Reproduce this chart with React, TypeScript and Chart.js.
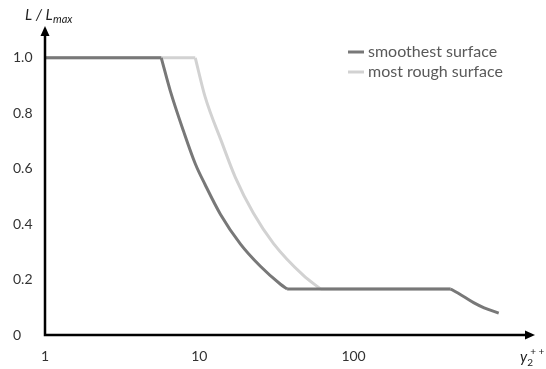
import { useEffect, useRef } from "react";
import { Chart, registerables } from "chart.js";

Chart.register(...registerables);

const seriesNames = ["smoothest surface", "most rough surface"];
const smoothX = [1, 5.67, 6.48, 7.91, 9.42, 10.9, 13.7, 18.5, 24.9, 33.6, 37.1, 426, 520, 604, 702, 873];
const smoothY = [1, 1, 0.882, 0.735, 0.618, 0.543, 0.436, 0.328, 0.248, 0.183, 0.166, 0.166, 0.138, 0.116, 0.098, 0.079];
// indices where the drawn line switches between straight and curved parts
const smoothBreaks = [0, 1, 10, 11, 15];
const roughX = [1, 9.42, 10.9, 14.0, 17.1, 22.4, 30.3, 47.3, 61.1, 426];
const roughY = [1, 1, 0.86, 0.695, 0.57, 0.44, 0.33, 0.215, 0.166, 0.166];
const roughBreaks = [0, 1, 8, 9];
const xTicks = [1, 10, 100];
const yTicks = [0, 0.2, 0.4, 0.6, 0.8, 1.0];
const yTickLabels = ["0", "0.2", "0.4", "0.6", "0.8", "1.0"];
const lineColors = ["#787878", "#d2d2d2"];

const FONT = "Lato";

function buildDatasets(xs: number[], ys: number[], breaks: number[], color: string, label: string) {
  const out: any[] = [];
  for (let k = 0; k < breaks.length - 1; k++) {
    const a = breaks[k];
    const b = breaks[k + 1];
    const pts = [];
    for (let i = a; i <= b; i++) pts.push({ x: xs[i], y: ys[i] });
    out.push({
      label,
      data: pts,
      borderColor: color,
      borderWidth: 3,
      pointRadius: 0,
      cubicInterpolationMode: b - a > 1 ? "monotone" : "default",
      tension: 0,
      isMain: k === 0,
    });
  }
  return out;
}

const decor = {
  id: "decor",
  afterDraw(chart: any) {
    const { ctx, chartArea, scales } = chart;
    const xL = scales.x.getPixelForValue(1);
    const yB = scales.y.getPixelForValue(0);
    ctx.save();
    ctx.strokeStyle = "#000";
    ctx.fillStyle = "#000";
    ctx.lineWidth = 2.5;
    ctx.beginPath();
    ctx.moveTo(xL, chartArea.top + 8);
    ctx.lineTo(xL, yB);
    ctx.lineTo(chartArea.right - 8, yB);
    ctx.stroke();
    ctx.beginPath();
    ctx.moveTo(xL, chartArea.top);
    ctx.lineTo(xL - 4.5, chartArea.top + 10);
    ctx.lineTo(xL + 4.5, chartArea.top + 10);
    ctx.closePath();
    ctx.fill();
    ctx.beginPath();
    ctx.moveTo(chartArea.right, yB);
    ctx.lineTo(chartArea.right - 10, yB - 4.5);
    ctx.lineTo(chartArea.right - 10, yB + 4.5);
    ctx.closePath();
    ctx.fill();
    // axis titles
    ctx.fillStyle = "#222";
    ctx.textBaseline = "alphabetic";
    ctx.textAlign = "left";
    ctx.font = `italic 15px ${FONT}`;
    ctx.fillText("L / L", 25, 20);
    const w = ctx.measureText("L / L").width;
    ctx.font = `italic 11px ${FONT}`;
    ctx.fillText("max", 25 + w + 0.5, 23);
    ctx.font = `italic 15px ${FONT}`;
    ctx.fillText("y", 520, 362);
    const wy = ctx.measureText("y").width;
    ctx.font = `10px ${FONT}`;
    ctx.fillText("2", 520 + wy, 366);
    ctx.fillText("+ +", 520 + wy + 3, 355);
    // legend
    const mains = chart.data.datasets.filter((d: any) => d.isMain);
    mains.forEach((ds: any, i: number) => {
      const yy = 52 + i * 20;
      ctx.strokeStyle = ds.borderColor;
      ctx.lineWidth = 3;
      ctx.beginPath();
      ctx.moveTo(348, yy);
      ctx.lineTo(364, yy);
      ctx.stroke();
      ctx.fillStyle = "#595959";
      ctx.font = `16px ${FONT}`;
      ctx.textBaseline = "middle";
      ctx.fillText(ds.label, 368, yy);
    });
    ctx.restore();
  },
};

export default function App() {
  const ref = useRef<HTMLCanvasElement | null>(null);
  useEffect(() => {
    if (!ref.current) return;
    const chart = new Chart(ref.current, {
      type: "line",
      data: {
        datasets: [
          ...buildDatasets(smoothX, smoothY, smoothBreaks, lineColors[0], seriesNames[0]),
          ...buildDatasets(roughX, roughY, roughBreaks, lineColors[1], seriesNames[1]),
        ],
      },
      options: {
        animation: false,
        responsive: false,
        layout: { padding: { left: 13, top: 26, right: 11, bottom: 0 } },
        plugins: { legend: { display: false }, tooltip: { enabled: false } },
        scales: {
          x: {
            type: "logarithmic",
            min: 1,
            max: 1500,
            afterBuildTicks: (s: any) => {
              s.ticks = xTicks.map((v) => ({ value: v }));
            },
            afterFit: (s: any) => {
              s.height = 34;
            },
            grid: { display: false },
            border: { display: false },
            ticks: {
              autoSkip: false,
              maxRotation: 0,
              padding: 5,
              color: "#333",
              font: { family: FONT, size: 14 },
              callback: (v: any) => String(v),
            },
          },
          y: {
            type: "linear",
            min: 0,
            max: 1.115,
            afterBuildTicks: (s: any) => {
              s.ticks = yTicks.map((v) => ({ value: v }));
            },
            afterFit: (s: any) => {
              s.width = 32;
            },
            grid: { display: false },
            border: { display: false },
            ticks: {
              crossAlign: "far",
              color: "#333",
              font: { family: FONT, size: 14 },
              callback: (_v: any, i: number) => yTickLabels[i],
            },
          },
        },
      },
      plugins: [decor],
    });
    return () => chart.destroy();
  }, []);
  return (
    <div style={{ position: "absolute", left: 0, top: 0, width: 546, height: 369, background: "#fff" }}>
      <canvas ref={ref} width={546} height={369} />
    </div>
  );
}
